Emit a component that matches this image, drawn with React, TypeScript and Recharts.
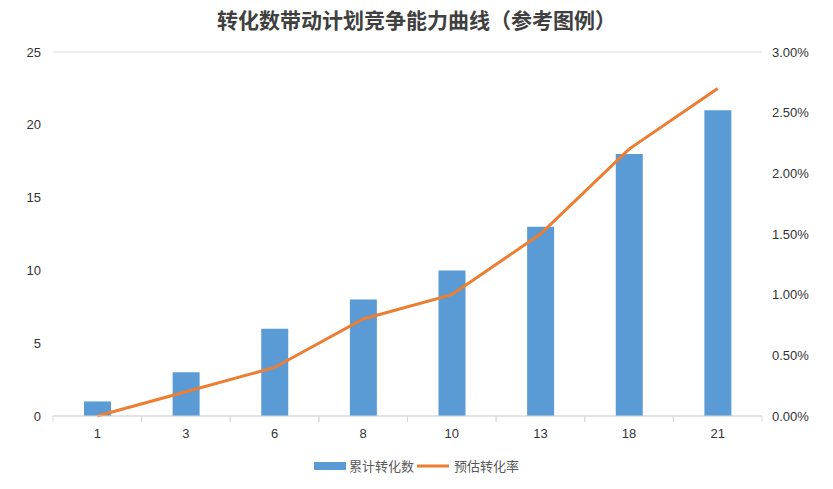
import React from 'react';
import {
  ComposedChart,
  Bar,
  Line,
  XAxis,
  YAxis,
  CartesianGrid,
  Legend,
} from 'recharts';

const categories = ['1', '3', '6', '8', '10', '13', '18', '21'];
const cumulativeConversions = [1, 3, 6, 8, 10, 13, 18, 21];
const estimatedRate = [0.0, 0.2, 0.4, 0.8, 1.0, 1.5, 2.2, 2.7];
const leftTicks = [0, 5, 10, 15, 20, 25];
const rightTicks = [0, 0.5, 1, 1.5, 2, 2.5, 3];

const data = categories.map((c, i) => ({
  name: c,
  conv: cumulativeConversions[i],
  rate: estimatedRate[i],
}));

const BAR_COLOR = '#5B9BD5';
const LINE_COLOR = '#ED7D31';
const AXIS_TEXT = '#333333';
const GRID = '#D9D9D9';

const PLOT_LEFT = 53;
const PLOT_RIGHT = 762;
const BAND = (PLOT_RIGHT - PLOT_LEFT) / categories.length;

// x tick with Excel-like marks between categories
const XTick = (props: any) => {
  const { x, y, payload } = props;
  return (
    <g>
      <line x1={x - BAND / 2} y1={y - 8} x2={x - BAND / 2} y2={y - 2} stroke={GRID} />
      <line x1={x + BAND / 2} y1={y - 8} x2={x + BAND / 2} y2={y - 2} stroke={GRID} />
      <text x={x} y={y + 14} textAnchor="middle" fontSize={13} fill={AXIS_TEXT}>
        {payload.value}
      </text>
    </g>
  );
};

const renderLegend = () => (
  <div
    style={{
      display: 'flex',
      justifyContent: 'center',
      alignItems: 'center',
      paddingTop: 10,
      fontSize: 13,
      color: '#595959',
      fontFamily: '"Noto Sans CJK SC", sans-serif',
    }}
  >
    <svg width={32} height={10} style={{ marginRight: 3 }}>
      <rect x={0} y={1} width={32} height={8} fill={BAR_COLOR} />
    </svg>
    <span>累计转化数</span>
    <svg width={32} height={10} style={{ marginLeft: 3, marginRight: 5 }}>
      <line x1={0} y1={5} x2={32} y2={5} stroke={LINE_COLOR} strokeWidth={3} />
    </svg>
    <span>预估转化率</span>
  </div>
);

const App: React.FC = () => {
  return (
    <div style={{ position: 'absolute', left: 0, top: 0, width: 833, height: 489, background: '#fff' }}>
      <div
        style={{
          position: 'absolute',
          top: 4,
          width: 833,
          textAlign: 'center',
          fontSize: 21,
          fontWeight: 'bold',
          color: '#404040',
          fontFamily: '"Noto Sans CJK SC", sans-serif',
        }}
      >
        转化数带动计划竞争能力曲线（参考图例）
      </div>
      <ComposedChart
        width={833}
        height={489}
        data={data}
        margin={{ top: 52, right: 0, bottom: 14, left: 0 }}
        style={{ fontFamily: '"Liberation Sans", Arial, sans-serif' }}
      >
        <CartesianGrid vertical={false} stroke={GRID} />
        <XAxis
          dataKey="name"
          stroke={GRID}
          tickLine={false}
          tick={<XTick />}
          height={30}
        />
        <YAxis
          yAxisId="left"
          domain={[0, 25]}
          ticks={leftTicks}
          axisLine={false}
          tickLine={false}
          width={PLOT_LEFT}
          tick={{ fontSize: 13, fill: AXIS_TEXT }}
          tickMargin={6}
        />
        <YAxis
          yAxisId="right"
          orientation="right"
          domain={[0, 3]}
          ticks={rightTicks}
          axisLine={false}
          tickLine={false}
          width={833 - PLOT_RIGHT}
          tick={{ fontSize: 13, fill: AXIS_TEXT, textAnchor: 'start' }}
          tickMargin={4}
          tickFormatter={(v: number) => `${v.toFixed(2)}%`}
        />
        <Bar
          yAxisId="left"
          dataKey="conv"
          name="累计转化数"
          fill={BAR_COLOR}
          barSize={27}
          isAnimationActive={false}
        />
        <Line
          yAxisId="right"
          type="linear"
          dataKey="rate"
          name="预估转化率"
          stroke={LINE_COLOR}
          strokeWidth={3}
          dot={false}
          isAnimationActive={false}
        />
        <Legend verticalAlign="bottom" content={renderLegend} />
      </ComposedChart>
    </div>
  );
};

export default App;
